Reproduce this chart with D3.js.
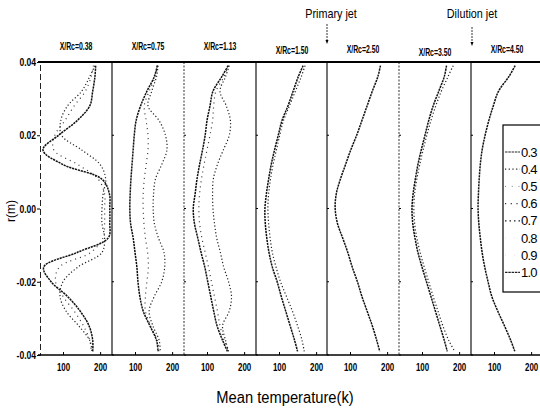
<!DOCTYPE html>
<html><head><meta charset="utf-8">
<script src="https://cdn.jsdelivr.net/npm/d3@7"></script>
<style>
body{margin:0;background:#fff;}
svg text{font-family:"Liberation Sans",Arial,sans-serif;fill:#000;}
</style></head><body>
<svg id="c" width="540" height="410"></svg>
<script>
// ---- data ----
const panelTitles = ["X/Rc=0.38","X/Rc=0.75","X/Rc=1.13","X/Rc=1.50","X/Rc=2.50","X/Rc=3.50","X/Rc=4.50"];
const rValues = [0.039,0.036,0.032,0.028,0.024,0.020,0.016,0.012,0.008,0.004,0.000,-0.004,-0.008,-0.012,-0.016,-0.020,-0.024,-0.028,-0.032,-0.036,-0.039];
const yTicks = [0.04,0.02,0.00,-0.02,-0.04];
const yTickLabels = ["0.04","0.02","0.00","-0.02","-0.04"];
const xTicks = [100,200];
const legendLabels = ["0.3","0.4","0.5","0.6","0.7","0.8","0.9","1.0"];

// series "1.0" (dense dashed, main curve) per panel
const t10 = [
 [188,186,180,172,138,88,46,100,205,225,226,226,222,138,48,68,112,146,170,180,180],
 [160,152,132,115,103,98,95,92,89,87,86,88,95,100,105,108,113,122,140,158,162],
 [157,140,116,108,100,95,88,80,73,68,63,66,75,84,94,102,110,118,127,142,155],
 [165,152,138,124,108,98,88,79,72,66,62,63,67,73,82,95,106,118,130,142,150],
 [182,175,160,146,132,118,102,88,74,63,60,66,80,94,106,120,132,146,160,172,180],
 [166,160,145,130,118,108,98,89,82,76,73,75,81,89,100,112,124,136,148,160,168],
 [157,140,112,98,86,76,68,63,60,58,57,59,63,68,75,84,94,110,128,145,156]
];
// series "0.4" (dotted) per panel (null = coincides with main curve)
const t04 = [
 [186,172,150,112,94,96,150,200,215,208,205,205,212,205,140,100,92,108,142,172,178],
 [162,158,145,135,165,182,186,172,155,150,149,152,163,178,180,172,152,138,148,165,168],
 [160,150,135,152,163,160,144,128,117,115,116,120,126,136,145,158,166,160,142,150,158],
 [170,160,144,128,112,102,93,84,77,72,70,72,76,82,92,104,120,136,150,162,168],
 null,
 [184,170,152,137,124,113,103,94,86,80,78,80,86,95,106,118,130,143,156,172,188],
 null
];
// series "0.7" (sparse dotted) per panel
const t07 = [
 [182,176,160,130,105,78,75,140,195,212,212,212,208,175,90,80,100,130,155,172,176],
 [160,155,138,125,130,135,135,130,125,122,122,124,128,134,136,132,128,128,142,160,164],
 [158,146,124,118,115,108,100,92,85,80,78,80,86,95,104,112,120,128,135,146,158],
 null, null, null, null
];

// ---- layout ----
const svg = d3.select("#c");
const yTop = 62, yBottom = 355;
const panelLefts = [40,112,184,256,327,399,471];
const titleBaselines = [50,50,50,54,53,56,53];
const panelW = 72;
const y = d3.scaleLinear().domain([-0.04,0.04]).range([yBottom, yTop]);
const styles = {
 "1.0":{dash:"2.2,0.8", w:1.5, c:"#111"},
 "0.4":{dash:"1.2,2.2", w:1.2, c:"#222"},
 "0.7":{dash:"1,4", w:1.2, c:"#333"}
};
const legendStyles = [
 {dash:"2.5,0.8", w:1.1, c:"#222"},
 {dash:"1.2,2.5", w:1.2, c:"#222"},
 {dash:"0.8,6", w:1, c:"#666"},
 {dash:"1.2,4.5", w:1.2, c:"#333"},
 {dash:"1.5,3", w:1.2, c:"#222"},
 {dash:"1,8", w:0.6, c:"#ccc"},
 {dash:"1,8", w:0.6, c:"#ccc"},
 {dash:"2.5,0.8", w:1.2, c:"#222"}
];
const FONT = "'Liberation Sans',Arial,sans-serif";

panelLefts.forEach((L,i)=>{
 const x = d3.scaleLinear().domain([38,232]).range([L, L+panelW]);
 const g = svg.append("g");
 const ax = d3.axisBottom(x).tickValues(xTicks).tickSize(-3).tickSizeOuter(0).tickPadding(6).tickFormat(d3.format("d"));
 const ag = g.append("g").attr("transform",`translate(0,${yBottom})`).call(ax);
 ag.select(".domain").remove();
 ag.selectAll("text").attr("font-size",11).attr("font-weight","bold").attr("dy","0.9em")
   .attr("font-family",FONT).attr("transform","scale(0.72,1)");
 ag.selectAll("line").attr("stroke","#000");
 g.append("text").attr("transform",`translate(${L+panelW/2},${titleBaselines[i]}) scale(0.6,1)`)
  .attr("text-anchor","middle").attr("font-size",11.5).attr("font-weight","bold").text(panelTitles[i]);
 const line = d3.line().x(d=>x(d[0])).y(d=>y(d[1])).curve(d3.curveCatmullRom.alpha(0.5));
 [["0.7",t07[i]],["0.4",t04[i]],["1.0",t10[i]]].forEach(([k,arr])=>{
   if(!arr) return;
   const s = styles[k];
   g.append("path").datum(arr.map((t,j)=>[t,rValues[j]])).attr("d",line)
    .attr("fill","none").attr("stroke",s.c).attr("stroke-width",s.w).attr("stroke-dasharray",s.dash);
 });
 if(i>0){
  yTicks.forEach(v=>{
   g.append("line").attr("x1",L).attr("x2",L+2).attr("y1",y(v)).attr("y2",y(v)).attr("stroke","#000");
  });
 }
});

const dividerDash = [null,null,"2,1.5",null,null,"2,1.5",null];
panelLefts.forEach((L,i)=>{
 if(i===0) return;
 svg.append("line").attr("x1",L).attr("x2",L).attr("y1",yTop).attr("y2",yBottom)
  .attr("stroke", dividerDash[i]?"#444":"#000").attr("stroke-width",1.1)
  .attr("stroke-dasharray", dividerDash[i]);
});
const yAx = d3.axisLeft(y).tickValues(yTicks).tickSize(3).tickPadding(2).tickFormat((d,i)=>yTickLabels[i]);
const yg = svg.append("g").attr("transform","translate(40,0)").call(yAx);
yg.select(".domain").attr("stroke-dasharray","6,3").attr("stroke","#222");
yg.selectAll("text").attr("font-size",11).attr("font-weight","bold")
  .attr("font-family",FONT).attr("transform","scale(0.78,1)");
svg.append("line").attr("x1",38).attr("x2",540).attr("y1",yTop).attr("y2",yTop).attr("stroke","#000").attr("stroke-width",1.8);
svg.append("line").attr("x1",38).attr("x2",540).attr("y1",yBottom).attr("y2",yBottom).attr("stroke","#000").attr("stroke-width",1.4);

svg.append("text").attr("transform","translate(15,211) rotate(-90)").attr("text-anchor","middle")
 .attr("font-size",12).text("r(m)");
svg.append("text").attr("transform","translate(285,403) scale(0.92,1)").attr("text-anchor","middle")
 .attr("font-size",16).text("Mean temperature(k)");

const ann = [{t:"Primary jet", x:331, ax:327, y1:24, y2:44},{t:"Dilution jet", x:472, ax:472, y1:27, y2:46}];
ann.forEach(a=>{
 svg.append("text").attr("transform",`translate(${a.x},18) scale(0.9,1)`).attr("text-anchor","middle").attr("font-size",12)
  .text(a.t);
 svg.append("line").attr("x1",a.ax).attr("x2",a.ax).attr("y1",a.y1).attr("y2",a.y2-3).attr("stroke","#000").attr("stroke-width",0.8).attr("stroke-dasharray","2,1");
 svg.append("path").attr("d",`M${a.ax-1.5},${a.y2-4}L${a.ax+1.5},${a.y2-4}L${a.ax},${a.y2}Z`).attr("fill","#000");
});

const lg = svg.append("g");
lg.append("rect").attr("x",503).attr("y",125).attr("width",40).attr("height",167).attr("fill","#fff").attr("stroke","#000").attr("stroke-width",1.2);
legendLabels.forEach((lab,i)=>{
 const yy = 152 + i*17.2;
 const s = legendStyles[i];
 lg.append("line").attr("x1",505).attr("x2",520).attr("y1",yy).attr("y2",yy)
  .attr("stroke",s.c).attr("stroke-width",s.w).attr("stroke-dasharray",s.dash);
 lg.append("text").attr("x",521).attr("y",yy+4.5).attr("font-size",13).attr("letter-spacing",-0.8).text(lab);
});
</script></body></html>
